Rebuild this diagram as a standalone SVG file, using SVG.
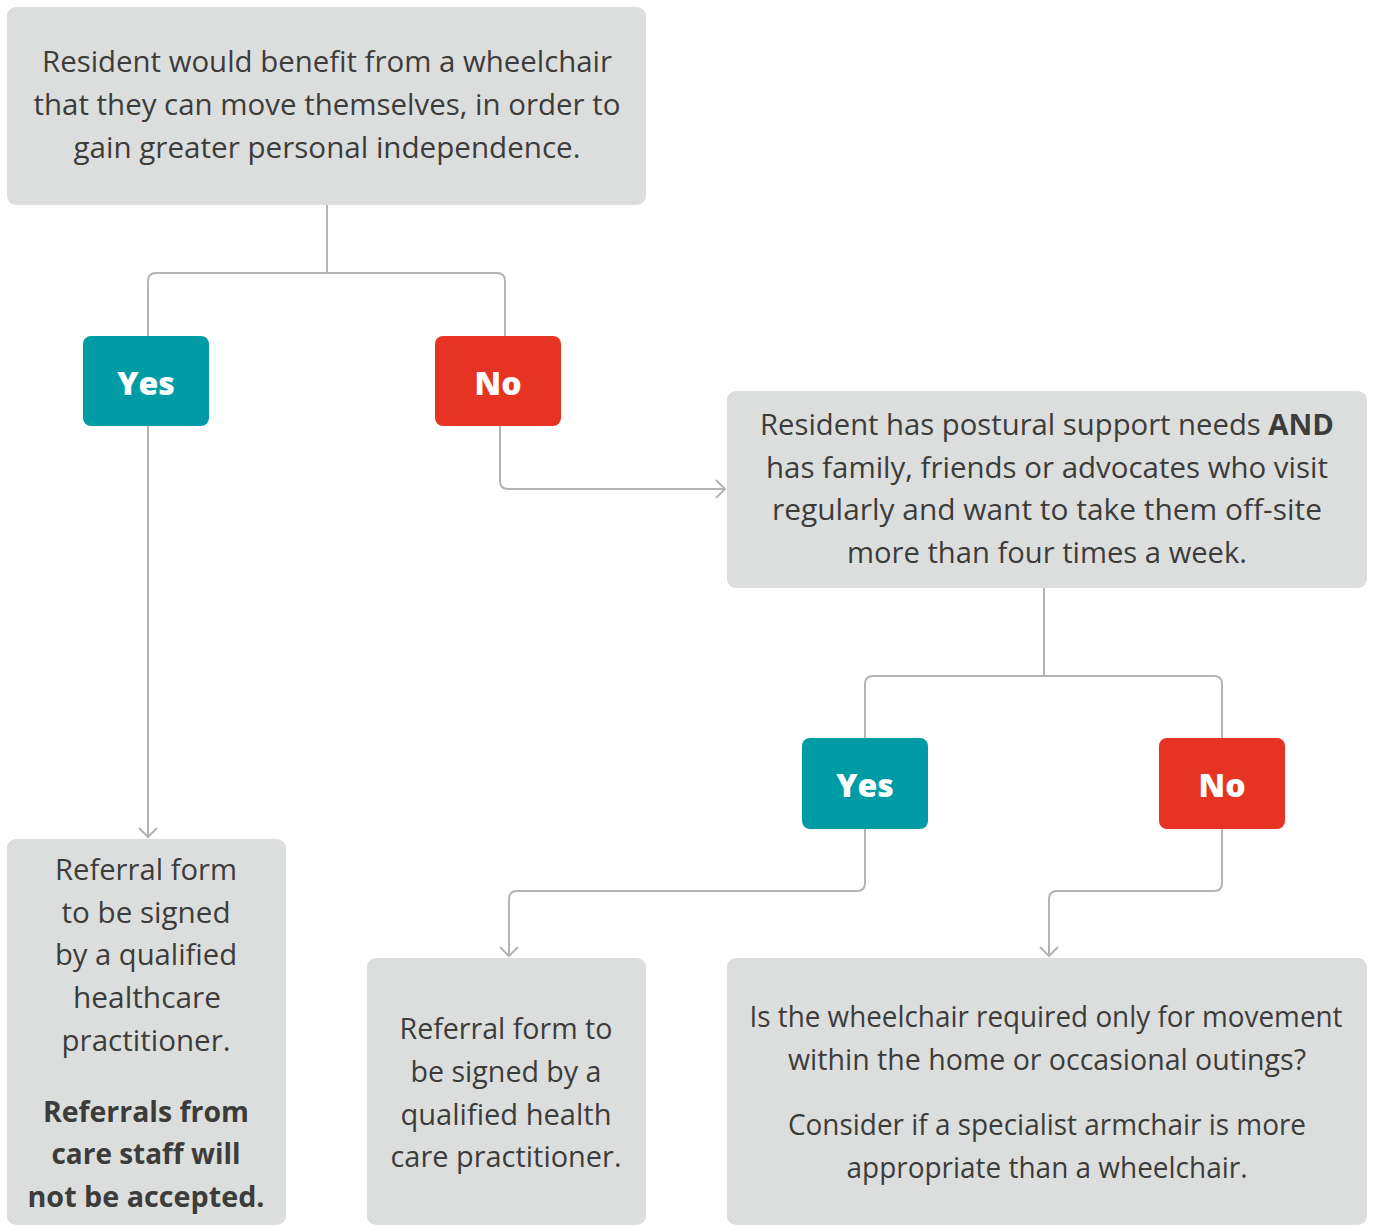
<svg xmlns="http://www.w3.org/2000/svg" width="1375" height="1226" viewBox="0 0 1375 1226">
<defs>
<style>
.box{fill:#dcdedd}
.yes{fill:#009ca6}
.no{fill:#e63323}
.t{font-family:"Open Sans","Noto Sans","Liberation Sans",sans-serif;font-size:29px;fill:#3c3c3b;text-anchor:middle}
.b{font-weight:bold}
.lbl{font-family:"Open Sans","Noto Sans","Liberation Sans",sans-serif;font-size:32px;font-weight:800;fill:#ffffff;text-anchor:middle}
.c{fill:none;stroke:#b4b4b4;stroke-width:2}
</style>
<marker id="arr" markerUnits="userSpaceOnUse" markerWidth="20" markerHeight="20" viewBox="-12 -10 14 20" refX="0" refY="0" orient="auto">
<path d="M-9,-9 L0,0 L-9,9" fill="none" stroke="#b4b4b4" stroke-width="2"/>
</marker>
</defs>
<rect width="1375" height="1226" fill="#ffffff"/>
<g id="connectors">
<path class="c" d="M327,205 V273"/>
<path class="c" d="M148,336 V281 Q148,273 156,273 H497 Q505,273 505,281 V336"/>
<path class="c" d="M148,426 V837" marker-end="url(#arr)"/>
<path class="c" d="M500,426 V481 Q500,489 508,489 H725" marker-end="url(#arr)"/>
<path class="c" d="M1044,588 V676"/>
<path class="c" d="M865,738 V684 Q865,676 873,676 H1214 Q1222,676 1222,684 V738"/>
<path class="c" d="M865,829 V883 Q865,891 857,891 H517 Q509,891 509,899 V956" marker-end="url(#arr)"/>
<path class="c" d="M1222,829 V883 Q1222,891 1214,891 H1057 Q1049,891 1049,899 V956" marker-end="url(#arr)"/>
</g>
<g id="start">
<rect class="box" x="7" y="7" width="639" height="198" rx="9"/>
<text class="t" x="327" y="72" textLength="570" lengthAdjust="spacingAndGlyphs">Resident would benefit from a wheelchair</text>
<text class="t" x="327" y="115" textLength="587" lengthAdjust="spacingAndGlyphs">that they can move themselves, in order to</text>
<text class="t" x="327" y="158" textLength="507" lengthAdjust="spacingAndGlyphs">gain greater personal independence.</text>
</g>
<g id="yes1">
<rect class="yes" x="83" y="336" width="126" height="90" rx="8"/>
<text class="lbl" x="146" y="395">Yes</text>
</g>
<g id="no1">
<rect class="no" x="435" y="336" width="126" height="90" rx="8"/>
<text class="lbl" x="498" y="395">No</text>
</g>
<g id="question2">
<rect class="box" x="727" y="391" width="640" height="197" rx="9"/>
<text class="t" x="1047" y="435" textLength="574" lengthAdjust="spacingAndGlyphs">Resident has postural support needs <tspan class="b">AND</tspan></text>
<text class="t" x="1047" y="478" textLength="562" lengthAdjust="spacingAndGlyphs">has family, friends or advocates who visit</text>
<text class="t" x="1047" y="520" textLength="550" lengthAdjust="spacingAndGlyphs">regularly and want to take them off-site</text>
<text class="t" x="1047" y="563" textLength="400" lengthAdjust="spacingAndGlyphs">more than four times a week.</text>
</g>
<g id="yes2">
<rect class="yes" x="802" y="738" width="126" height="91" rx="8"/>
<text class="lbl" x="865" y="797">Yes</text>
</g>
<g id="no2">
<rect class="no" x="1159" y="738" width="126" height="91" rx="8"/>
<text class="lbl" x="1222" y="797">No</text>
</g>
<g id="referral1">
<rect class="box" x="7" y="839" width="279" height="386" rx="9"/>
<text class="t" x="146" y="880" textLength="182" lengthAdjust="spacingAndGlyphs">Referral form</text>
<text class="t" x="146" y="923" textLength="169" lengthAdjust="spacingAndGlyphs">to be signed</text>
<text class="t" x="146" y="965" textLength="182" lengthAdjust="spacingAndGlyphs">by a qualified</text>
<text class="t" x="147" y="1008" textLength="148" lengthAdjust="spacingAndGlyphs">healthcare</text>
<text class="t" x="146" y="1051" textLength="169" lengthAdjust="spacingAndGlyphs">practitioner.</text>
<text class="t b" x="146" y="1122" textLength="206" lengthAdjust="spacingAndGlyphs">Referrals from</text>
<text class="t b" x="146" y="1164" textLength="189" lengthAdjust="spacingAndGlyphs">care staff will</text>
<text class="t b" x="146" y="1207" textLength="237" lengthAdjust="spacingAndGlyphs">not be accepted.</text>
</g>
<g id="referral2">
<rect class="box" x="367" y="958" width="279" height="267" rx="9"/>
<text class="t" x="506" y="1039" textLength="213" lengthAdjust="spacingAndGlyphs">Referral form to</text>
<text class="t" x="506" y="1082" textLength="191" lengthAdjust="spacingAndGlyphs">be signed by a</text>
<text class="t" x="506" y="1125" textLength="211" lengthAdjust="spacingAndGlyphs">qualified health</text>
<text class="t" x="506" y="1167" textLength="231" lengthAdjust="spacingAndGlyphs">care practitioner.</text>
</g>
<g id="question3">
<rect class="box" x="727" y="958" width="640" height="267" rx="9"/>
<text class="t" x="1046" y="1027" textLength="593" lengthAdjust="spacingAndGlyphs">Is the wheelchair required only for movement</text>
<text class="t" x="1047" y="1070" textLength="518" lengthAdjust="spacingAndGlyphs">within the home or occasional outings?</text>
<text class="t" x="1047" y="1135" textLength="518" lengthAdjust="spacingAndGlyphs">Consider if a specialist armchair is more</text>
<text class="t" x="1047" y="1178" textLength="401" lengthAdjust="spacingAndGlyphs">appropriate than a wheelchair.</text>
</g>
</svg>
